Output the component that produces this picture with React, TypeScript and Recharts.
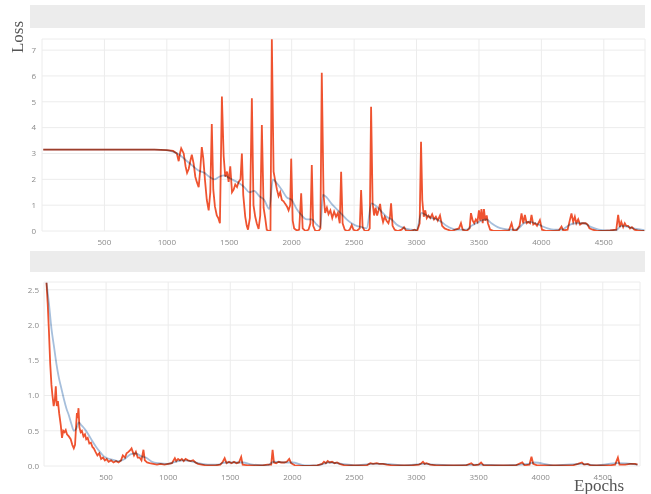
import React from "react";
import { LineChart, Line, XAxis, YAxis, CartesianGrid } from "recharts";

// ---------- Top panel (loss, run 1) ----------
const topRawEpochs = [
  10, 300, 600, 900, 1000, 1050, 1080, 1095, 1105, 1115, 1135, 1150, 1162, 1175, 1190, 1200, 1215, 1228, 1240, 1255,
  1268, 1280, 1292, 1305, 1320, 1335, 1348, 1360, 1372, 1385, 1400, 1412, 1425, 1441, 1455, 1468, 1482, 1495, 1508, 1522,
  1535, 1548, 1562, 1575, 1590, 1601, 1612, 1628, 1640, 1650, 1665, 1681, 1694, 1708, 1720, 1735, 1748, 1761, 1775, 1788,
  1800, 1815, 1830, 1841, 1855, 1868, 1882, 1895, 1908, 1921, 1935, 1948, 1962, 1975, 1988, 1996, 2008, 2020, 2041, 2060,
  2076, 2088, 2110, 2135, 2150, 2161, 2172, 2190, 2215, 2230, 2241, 2255, 2268, 2282, 2295, 2310, 2325, 2340, 2355, 2370,
  2385, 2396, 2408, 2425, 2445, 2465, 2481, 2495, 2520, 2545, 2556, 2568, 2585, 2610, 2625, 2636, 2648, 2660, 2672, 2684,
  2696, 2708, 2720, 2732, 2745, 2760, 2775, 2786, 2796, 2808, 2825, 2850, 2880, 2900, 2915, 2950, 2985, 3005, 3025, 3036,
  3046, 3058, 3070, 3082, 3095, 3110, 3125, 3140, 3155, 3170, 3188, 3205, 3225, 3250, 3280, 3310, 3340, 3356, 3370, 3400,
  3425, 3436, 3450, 3462, 3475, 3488, 3500, 3510, 3520, 3530, 3540, 3550, 3562, 3572, 3590, 3620, 3680, 3740, 3761, 3775,
  3800, 3825, 3841, 3855, 3868, 3882, 3895, 3910, 3921, 3935, 3950, 3965, 3988, 4005, 4040, 4100, 4140, 4161, 4175, 4210,
  4228, 4241, 4255, 4268, 4280, 4295, 4310, 4325, 4340, 4355, 4370, 4385, 4410, 4450, 4500, 4550, 4600, 4615, 4628, 4640,
  4655, 4668, 4680, 4695, 4710, 4725, 4745, 4770, 4800, 4825,
];
const topRawLoss = [
  3.15, 3.15, 3.15, 3.15, 3.13, 3.1, 3.0, 2.7, 3.0, 3.2, 3.0, 2.5, 2.25, 2.4, 2.75, 2.95, 2.6, 2.1, 1.9, 1.7,
  2.4, 3.25, 2.8, 2.0, 1.2, 0.8, 1.5, 4.14, 1.6, 0.95, 0.6, 0.5, 0.3, 5.2, 2.9, 2.1, 2.3, 1.9, 2.5, 1.5,
  1.6, 1.8, 1.7, 1.9, 2.0, 3.0, 1.4, 0.55, 0.2, 0.05, 0.5, 5.14, 1.0, 0.55, 0.3, 0.08, 0.6, 4.1, 0.9, 0.5,
  0.05, 0.0, 0.02, 7.42, 2.3, 1.95, 1.6, 1.35, 1.5, 1.2, 1.15, 1.05, 0.95, 0.8, 1.0, 2.8, 0.4, 0.1, 0.02, 0.05,
  1.46, 0.1, 0.0, 0.05, 0.3, 2.55, 0.2, 0.0, 0.0, 0.1, 6.12, 1.4, 0.7, 0.9, 0.65, 0.8, 0.5, 0.75, 0.55, 0.7,
  0.3, 2.29, 0.3, 0.05, 0.0, 0.05, 0.23, 0.05, 0.0, 0.1, 1.59, 0.15, 0.0, 0.0, 0.1, 4.81, 1.1, 0.6, 0.9, 0.6,
  0.8, 1.05, 0.6, 0.35, 0.55, 0.4, 0.3, 0.5, 1.07, 0.2, 0.05, 0.0, 0.05, 0.15, 0.02, 0.0, 0.05, 0.0, 0.3, 3.45,
  1.2, 0.55, 0.8, 0.5, 0.6, 0.5, 0.65, 0.45, 0.55, 0.4, 0.6, 0.2, 0.1, 0.05, 0.0, 0.05, 0.1, 0.3, 0.05, 0.0,
  0.1, 0.69, 0.4, 0.3, 0.45, 0.35, 0.8, 0.4, 0.85, 0.3, 0.85, 0.4, 0.6, 0.3, 0.05, 0.0, 0.0, 0.02, 0.3, 0.02,
  0.02, 0.2, 0.68, 0.3, 0.62, 0.3, 0.35, 0.3, 0.62, 0.25, 0.3, 0.2, 0.42, 0.05, 0.0, 0.0, 0.02, 0.17, 0.02, 0.05,
  0.42, 0.68, 0.35, 0.55, 0.3, 0.45, 0.25, 0.3, 0.3, 0.3, 0.25, 0.1, 0.05, 0.0, 0.0, 0.02, 0.05, 0.62, 0.15, 0.35,
  0.15, 0.3, 0.2, 0.2, 0.1, 0.15, 0.05, 0.02, 0.0, 0.0,
];
const topSmoothEpochs = [
  10, 900, 1000, 1060, 1100, 1150, 1200, 1250, 1300, 1340, 1380, 1420, 1460, 1500, 1540, 1580, 1620, 1660, 1700, 1740,
  1780, 1820, 1850, 1880, 1920, 1960, 2000, 2040, 2080, 2120, 2160, 2200, 2230, 2250, 2280, 2320, 2360, 2400, 2440, 2480,
  2520, 2560, 2600, 2640, 2680, 2720, 2760, 2800, 2840, 2880, 2920, 2960, 3000, 3040, 3080, 3120, 3160, 3200, 3240, 3280,
  3320, 3360, 3400, 3440, 3480, 3520, 3560, 3600, 3650, 3700, 3760, 3800, 3860, 3900, 3950, 4000, 4050, 4100, 4160, 4230,
  4280, 4340, 4400, 4460, 4520, 4600, 4640, 4700, 4760, 4825,
];
const topSmoothLoss = [
  3.15, 3.15, 3.13, 3.05, 2.95, 2.75, 2.55, 2.35, 2.25, 2.1, 2.0, 2.1, 2.15, 2.05, 1.95, 1.85, 1.7, 1.5, 1.55, 1.35,
  1.2, 0.85, 2.0, 1.85, 1.6, 1.3, 1.2, 0.85, 0.6, 0.45, 0.45, 0.25, 0.15, 1.4, 1.3, 1.05, 0.85, 0.65, 0.45, 0.3,
  0.2, 0.15, 0.1, 1.07, 0.95, 0.75, 0.55, 0.45, 0.25, 0.15, 0.08, 0.05, 0.03, 0.7, 0.6, 0.5, 0.45, 0.35, 0.2, 0.1,
  0.05, 0.05, 0.05, 0.2, 0.3, 0.4, 0.45, 0.3, 0.15, 0.08, 0.05, 0.05, 0.3, 0.35, 0.3, 0.2, 0.1, 0.05, 0.05, 0.25,
  0.3, 0.3, 0.15, 0.05, 0.02, 0.03, 0.2, 0.15, 0.08, 0.03,
];

// ---------- Bottom panel (loss, run 2) ----------
const botRawEpochs = [
  20, 30, 40, 50, 60, 68, 78, 88, 95, 103, 112, 122, 135, 145, 155, 165, 175, 185, 200, 215,
  228, 240, 250, 258, 265, 270, 278, 285, 295, 305, 318, 330, 340, 352, 365, 378, 390, 401, 415, 430,
  445, 460, 475, 490, 505, 520, 540, 560, 580, 600, 620, 635, 652, 665, 680, 692, 705, 715, 725, 740,
  755, 770, 785, 801, 812, 830, 850, 880, 910, 940, 970, 1000, 1030, 1054, 1065, 1080, 1095, 1110, 1125, 1140,
  1160, 1180, 1201, 1220, 1240, 1270, 1300, 1340, 1380, 1420, 1440, 1455, 1470, 1490, 1510, 1530, 1550, 1570, 1588, 1600,
  1640, 1700, 1760, 1800, 1830, 1841, 1852, 1870, 1890, 1910, 1935, 1955, 1975, 1990, 2020, 2080, 2140, 2200, 2240, 2255,
  2270, 2285, 2300, 2320, 2340, 2360, 2380, 2420, 2480, 2550, 2600, 2628, 2650, 2680, 2700, 2730, 2760, 2800, 2880, 2960,
  3020, 3040, 3052, 3065, 3080, 3110, 3160, 3240, 3320, 3400, 3441, 3460, 3500, 3520, 3540, 3600, 3700, 3800, 3852, 3870,
  3910, 3926, 3940, 3970, 4040, 4120, 4200, 4260, 4300, 4332, 4350, 4380, 4400, 4480, 4560, 4600, 4622, 4635, 4680, 4720,
  4761, 4780,
];
const botRawLoss = [
  2.6, 2.3, 1.9, 1.45, 1.15, 1.0, 0.85, 0.95, 1.13, 0.85, 0.92, 0.75, 0.58, 0.4, 0.5, 0.48, 0.51, 0.45, 0.42, 0.38,
  0.3, 0.25, 0.3, 0.55, 0.75, 0.68, 0.82, 0.55, 0.48, 0.5, 0.42, 0.45, 0.38, 0.4, 0.32, 0.33, 0.27, 0.25, 0.2, 0.15,
  0.18, 0.1, 0.12, 0.08, 0.1, 0.06, 0.08, 0.05, 0.07, 0.05, 0.08, 0.15, 0.12, 0.18, 0.2, 0.22, 0.25, 0.2, 0.15, 0.2,
  0.12, 0.12, 0.08, 0.23, 0.08, 0.05, 0.04, 0.03, 0.02, 0.03, 0.02, 0.03, 0.04, 0.11, 0.07, 0.1, 0.08, 0.1, 0.07, 0.1,
  0.08, 0.07, 0.08, 0.05, 0.03, 0.02, 0.01, 0.01, 0.01, 0.02, 0.06, 0.11, 0.04, 0.06, 0.04, 0.06, 0.04, 0.05, 0.13, 0.02,
  0.01, 0.01, 0.01, 0.02, 0.02, 0.23, 0.05, 0.04, 0.06, 0.05, 0.05, 0.06, 0.1, 0.04, 0.01, 0.0, 0.0, 0.01, 0.03, 0.06,
  0.04, 0.07, 0.05, 0.06, 0.04, 0.05, 0.03, 0.01, 0.01, 0.01, 0.01, 0.04, 0.03, 0.04, 0.03, 0.03, 0.02, 0.01, 0.01, 0.01,
  0.02, 0.04, 0.06, 0.03, 0.04, 0.02, 0.01, 0.01, 0.01, 0.01, 0.04, 0.01, 0.02, 0.05, 0.01, 0.01, 0.01, 0.01, 0.05, 0.01,
  0.02, 0.13, 0.03, 0.01, 0.01, 0.01, 0.01, 0.01, 0.03, 0.05, 0.02, 0.03, 0.01, 0.01, 0.01, 0.02, 0.12, 0.02, 0.02, 0.03,
  0.03, 0.02,
];
const botSmoothEpochs = [
  20, 40, 60, 80, 100, 120, 140, 160, 180, 200, 220, 240, 260, 280, 300, 330, 360, 390, 420, 450,
  480, 510, 550, 600, 650, 700, 740, 780, 820, 870, 920, 1000, 1060, 1120, 1180, 1240, 1320, 1400, 1460, 1540,
  1600, 1680, 1800, 1850, 1950, 2000, 2100, 2200, 2300, 2400, 2500, 2650, 2750, 2900, 3060, 3150, 3300, 3500, 3700, 3900,
  3950, 4100, 4330, 4450, 4620, 4780,
];
const botSmoothLoss = [
  2.6, 2.3, 1.95, 1.7, 1.45, 1.25, 1.1, 0.95, 0.82, 0.72, 0.6, 0.5, 0.53, 0.62, 0.58, 0.52, 0.44, 0.35, 0.27, 0.2,
  0.14, 0.11, 0.09, 0.07, 0.1, 0.17, 0.18, 0.14, 0.12, 0.06, 0.04, 0.03, 0.06, 0.08, 0.07, 0.04, 0.02, 0.02, 0.05, 0.05,
  0.05, 0.02, 0.01, 0.06, 0.05, 0.05, 0.01, 0.01, 0.05, 0.03, 0.01, 0.03, 0.03, 0.01, 0.03, 0.02, 0.01, 0.02, 0.01, 0.03,
  0.05, 0.01, 0.03, 0.01, 0.04, 0.02,
];

const xTicks = [500, 1000, 1500, 2000, 2500, 3000, 3500, 4000, 4500];
const topYTicks = [0, 1, 2, 3, 4, 5, 6, 7];
const botYTicks = [0, 0.5, 1, 1.5, 2, 2.5];

const zip = (xs: number[], ys: number[]) => xs.map((x, i) => ({ x, y: ys[i] }));

const topRaw = zip(topRawEpochs, topRawLoss);
const topSmooth = zip(topSmoothEpochs, topSmoothLoss);
const botRaw = zip(botRawEpochs, botRawLoss);
const botSmooth = zip(botSmoothEpochs, botSmoothLoss);

const RED = "#ef5330";
const BLUE = "#a6bfdc";
const GRID = "#ececec";
const tickStyle = { fontSize: 8, fill: "#8a8a8a", fontFamily: "'Open Sans', sans-serif" };

export default function App() {
  return (
    <div
      style={{
        position: "absolute",
        left: 0,
        top: 0,
        width: 651,
        height: 494,
        background: "#ffffff",
        overflow: "hidden",
      }}
    >
      <style>{`.blue-line path { mix-blend-mode: multiply; }`}</style>
      {/* header bands */}
      <div style={{ position: "absolute", left: 30, top: 5, width: 615, height: 23, background: "#ececec" }} />
      <div style={{ position: "absolute", left: 30, top: 251, width: 615, height: 21, background: "#ececec" }} />

      <div style={{ position: "absolute", left: 0, top: 0 }}>
        <LineChart width={651} height={250} margin={{ top: 39, right: 6, bottom: 0, left: 30 }}>
          <CartesianGrid stroke={GRID} strokeWidth={1} />
          <XAxis
            type="number"
            dataKey="x"
            domain={[0, 4830]}
            ticks={xTicks}
            axisLine={false}
            tickLine={false}
            tickSize={0}
            tickMargin={8}
            height={19}
            tick={tickStyle}
          />
          <YAxis
            type="number"
            dataKey="y"
            domain={[0, 7.43]}
            ticks={topYTicks}
            axisLine={false}
            tickLine={false}
            tickSize={0}
            tickMargin={6}
            width={12}
            tick={tickStyle}
            allowDataOverflow
          />
          <Line data={topRaw} dataKey="y" type="linear" stroke={RED} strokeWidth={1.8} dot={false} isAnimationActive={false} />
          <Line
            data={topSmooth}
            dataKey="y"
            type="monotone"
            stroke={BLUE}
            strokeWidth={1.8}
            dot={false}
            className="blue-line"
            isAnimationActive={false}
          />
        </LineChart>
      </div>

      <div style={{ position: "absolute", left: 0, top: 250 }}>
        <LineChart width={651} height={244} margin={{ top: 32, right: 11, bottom: 0, left: 32 }}>
          <CartesianGrid stroke={GRID} strokeWidth={1} />
          <XAxis
            type="number"
            dataKey="x"
            domain={[0, 4800]}
            ticks={xTicks}
            axisLine={false}
            tickLine={false}
            tickSize={0}
            tickMargin={8}
            height={28}
            tick={tickStyle}
          />
          <YAxis
            type="number"
            dataKey="y"
            domain={[0, 2.61]}
            ticks={botYTicks}
            tickFormatter={(v: number) => v.toFixed(1)}
            axisLine={false}
            tickLine={false}
            tickSize={0}
            tickMargin={5}
            width={12}
            tick={tickStyle}
            allowDataOverflow
          />
          <Line data={botRaw} dataKey="y" type="linear" stroke={RED} strokeWidth={1.8} dot={false} isAnimationActive={false} />
          <Line
            data={botSmooth}
            dataKey="y"
            type="monotone"
            stroke={BLUE}
            strokeWidth={1.8}
            dot={false}
            className="blue-line"
            isAnimationActive={false}
          />
        </LineChart>
      </div>

      {/* axis titles */}
      <div
        style={{
          position: "absolute",
          left: 18,
          top: 37,
          transform: "translate(-50%, -50%) rotate(-90deg)",
          fontFamily: "'Liberation Serif', 'DejaVu Serif', serif",
          fontSize: 17,
          color: "#555",
          whiteSpace: "nowrap",
        }}
      >
        Loss
      </div>
      <div
        style={{
          position: "absolute",
          left: 574,
          top: 476,
          fontFamily: "'Liberation Serif', 'DejaVu Serif', serif",
          fontSize: 17,
          color: "#555",
          whiteSpace: "nowrap",
        }}
      >
        Epochs
      </div>
    </div>
  );
}
